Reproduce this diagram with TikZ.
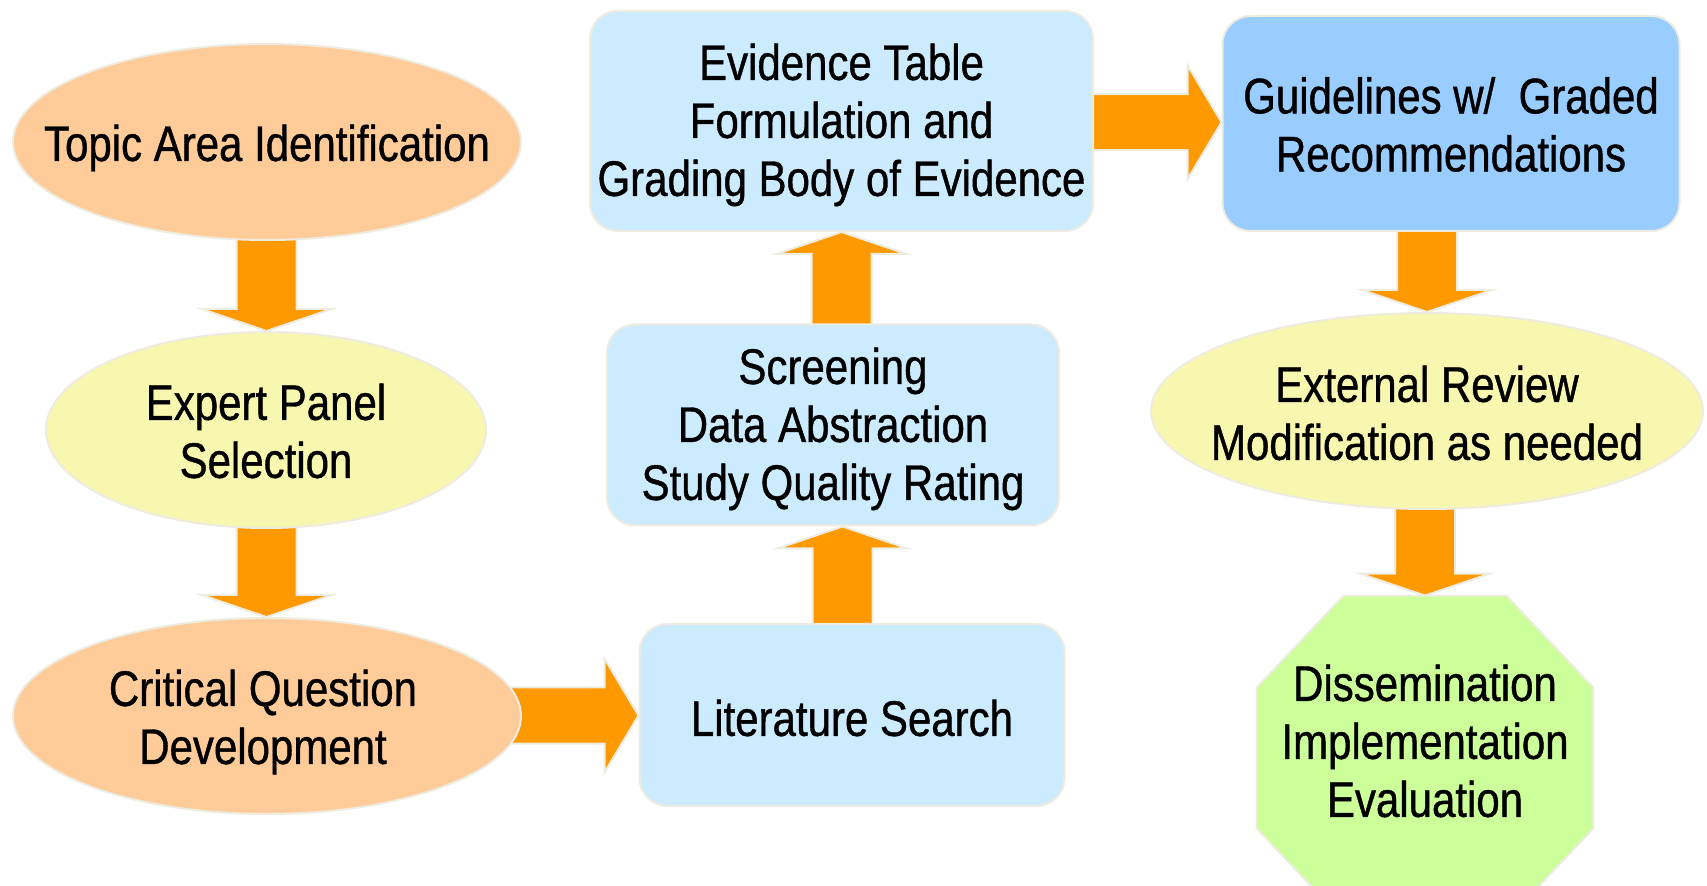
\documentclass[tikz,border=0pt]{standalone}
\usepackage{fontspec}
\setmainfont{Liberation Sans}[FakeStretch=0.84,FakeBold=0.8]
\usetikzlibrary{calc,backgrounds,shapes.geometric}
\definecolor{peach}{HTML}{FFCC99}
\definecolor{paleyellow}{HTML}{F7F7AF}
\definecolor{lightblue}{HTML}{CCEBFF}
\definecolor{midblue}{HTML}{99CCFF}
\definecolor{palegreen}{HTML}{CCFF99}
\definecolor{orangeA}{HTML}{FF9900}
\definecolor{edge}{HTML}{EEECE1}
\tikzset{
  base/.style={draw=edge, line width=1pt, inner sep=0pt},
  oval/.style={base, ellipse},
  rbox/.style={base, rectangle, rounded corners=14pt},
  txt/.style={align=center, inner sep=0pt, font=\fontsize{25}{29}\selectfont},
  blockarrow/.style={fill=orangeA, draw=edge, line width=1pt, line join=miter},
}
\newcommand{\downblk}[3]{%
  \path[blockarrow] let \p1=(#1), \p2=(#2), \p3=(#3) in
   (\x3-15pt,\y1) -- (\x3-15pt,\y2+11pt) -- (\x3-32.5pt,\y2+11pt) -- (\x3,\y2)
   -- (\x3+32.5pt,\y2+11pt) -- (\x3+15pt,\y2+11pt) -- (\x3+15pt,\y1) -- cycle;}
\newcommand{\upblk}[3]{%
  \path[blockarrow] let \p1=(#1), \p2=(#2), \p3=(#3) in
   (\x3-15pt,\y1) -- (\x3-15pt,\y2-11pt) -- (\x3-32.5pt,\y2-11pt) -- (\x3,\y2)
   -- (\x3+32.5pt,\y2-11pt) -- (\x3+15pt,\y2-11pt) -- (\x3+15pt,\y1) -- cycle;}
\newcommand{\rightblk}[3]{%
  \path[blockarrow] let \p1=(#1), \p2=(#2), \p3=(#3) in
   (\x1,\y3-14pt) -- (\x2-17pt,\y3-14pt) -- (\x2-17pt,\y3-28.5pt) -- (\x2,\y3)
   -- (\x2-17pt,\y3+28.5pt) -- (\x2-17pt,\y3+14pt) -- (\x1,\y3+14pt) -- cycle;}
\begin{document}
\begin{tikzpicture}[x=0.5pt,y=-0.5pt]
\clip (0,0) rectangle (1707,886);
% left column
\node[oval, fill=peach, minimum width=254pt, minimum height=98pt] (topic) at (267,142) {};
\node[txt] (topicT) at ([yshift=-3pt]topic.center) {Topic Area Identification};
\node[oval, fill=paleyellow, minimum width=220pt, minimum height=98pt] (expert) at (266,430) {};
\node[txt] (expertT) at ([yshift=-0.5pt]expert.center) {Expert Panel\\Selection};
\node[oval, fill=peach, minimum width=254pt, minimum height=98pt] (critical) at (267,716) {};
\node[txt] (criticalT) at ([xshift=-2pt,yshift=-3pt]critical.center) {Critical Question\\Development};
% middle column
\node[rbox, fill=lightblue, minimum width=212.5pt, minimum height=91pt] (lit) at (852,715) {};
\node[txt] (litT) at ([yshift=-1.5pt]lit.center) {Literature Search};
\node[rbox, fill=lightblue, minimum width=226pt, minimum height=100.5pt] (screen) at (833,425) {};
\node[txt] (screenT) at ([yshift=-2pt]screen.center) {Screening\\Data Abstraction\\Study Quality Rating};
\node[rbox, fill=lightblue, minimum width=251.5pt, minimum height=110pt] (evid) at (841.5,121) {};
\node[txt] (evidT) at ([yshift=-2pt]evid.center) {Evidence Table\\Formulation and\\Grading Body of Evidence};
% right column
\node[rbox, fill=midblue, minimum width=228.5pt, minimum height=107.5pt] (guide) at (1451,123.5) {};
\node[txt] (guideT) at ([yshift=-0.5pt]guide.center) {Guidelines w/ \ Graded\\Recommendations};
\node[oval, fill=paleyellow, minimum width=276pt, minimum height=98pt] (ext) at (1427,411) {};
\node[txt] (extT) at ([yshift=-1pt]ext.center) {External Review\\Modification as needed};
\node[rectangle, inner sep=0pt, minimum width=168pt, minimum height=162pt] (oct) at (1425,758) {};
\path[base, fill=palegreen]
  ([xshift=43.5pt]oct.north west) -- ([xshift=-43.5pt]oct.north east)
  -- ([yshift=-46pt]oct.north east) -- ([yshift=46pt]oct.south east)
  -- ([xshift=-43.5pt]oct.south east) -- ([xshift=43.5pt]oct.south west)
  -- ([yshift=46pt]oct.south west) -- ([yshift=-46pt]oct.north west) -- cycle;
\node[txt] (octT) at (1425,741) {Dissemination\\Implementation\\Evaluation};
% arrows
\begin{pgfonlayer}{background}
\downblk{topic}{expert.north}{$(topic)!0.5!(expert)$}
\downblk{expert}{critical.north}{$(expert)!0.5!(critical)$}
\rightblk{critical}{lit.west}{$(critical)!0.5!(lit)$}
\upblk{lit}{screen.south}{$(lit)!0.5!(screen)$}
\upblk{screen}{evid.south}{evid}
\rightblk{evid}{guide.west}{$(evid)!0.5!(guide)$}
\downblk{guide}{ext.north}{ext}
\downblk{ext}{oct.north}{oct}
\end{pgfonlayer}
\end{tikzpicture}
\end{document}
